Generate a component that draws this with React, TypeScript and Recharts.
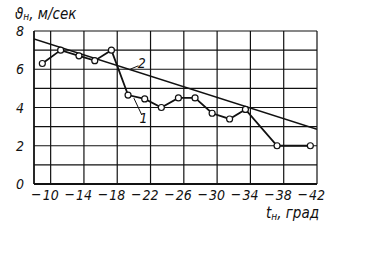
import React from 'react';
import { LineChart, Line, XAxis, YAxis, CartesianGrid, ReferenceLine, Customized } from 'recharts';

// curve 1 (measured points)
const temps1 = [-9, -11.2, -13.4, -15.3, -17.3, -19.3, -21.3, -23.3, -25.35, -27.35, -29.4, -31.5, -33.4, -37.2, -41.2];
const speeds1 = [6.3, 7.0, 6.7, 6.45, 7.0, 4.65, 4.45, 4.0, 4.5, 4.5, 3.7, 3.4, 3.9, 2.0, 2.0];

// curve 2 (straight trend line)
const temps2 = [-8, -42];
const speeds2 = [7.58, 2.86];

const xTicks = [-10, -14, -18, -22, -26, -30, -34, -38, -42];
const yTicks = [0, 1, 2, 3, 4, 5, 6, 7, 8];
const yLabelled = [0, 2, 4, 6, 8];

const FONT = '"Liberation Sans Narrow", "DejaVu Sans Condensed", sans-serif';
const INK = '#111';

const series1 = temps1.map((t, i) => ({ t, v: speeds1[i] }));
const series2 = temps2.map((t, i) => ({ t, v: speeds2[i] }));

const XTick = (props: any) => {
  const { x, y, payload } = props;
  const digits = String(Math.abs(payload.value));
  return (
    <g fontFamily={FONT} fontStyle="italic" fontSize={14} fill={INK}>
      <text x={x} y={y + 8} textAnchor="middle">{digits}</text>
      <text x={x - 9} y={y + 7} textAnchor="end">−</text>
    </g>
  );
};

const YTick = (props: any) => {
  const { x, y, payload } = props;
  if (!yLabelled.includes(payload.value)) return null;
  return (
    <text x={x - 2} y={y + 5} textAnchor="end" fontFamily={FONT} fontStyle="italic" fontSize={14} fill={INK}>
      {payload.value}
    </text>
  );
};

const Titles = () => (
  <g fontFamily={FONT} fontStyle="italic" fill={INK}>
    <text x={15} y={19} fontSize={15}>
      ϑ<tspan fontSize={10} dy={1}>н</tspan>
      <tspan dy={-1}>, м/сек</tspan>
    </text>
    <text x={266} y={218} fontSize={15}>
      t<tspan fontSize={10} dy={2}>н</tspan>
      <tspan dy={-2}>, град</tspan>
    </text>
  </g>
);

export default function App() {
  return (
    <div style={{ position: 'fixed', left: 0, top: 0, width: 383, height: 259, background: '#fff' }}>
      <LineChart width={383} height={259} margin={{ top: 31, right: 66, bottom: 45, left: 0 }}>
        <CartesianGrid stroke={INK} strokeWidth={1.2} />
        <XAxis
          type="number"
          dataKey="t"
          domain={[-42, -8]}
          reversed
          ticks={xTicks}
          interval={0}
          height={30}
          allowDataOverflow
          axisLine={{ stroke: INK, strokeWidth: 2 }}
          tickLine={false}
          tick={<XTick />}
        />
        <YAxis
          type="number"
          domain={[0, 8]}
          ticks={yTicks}
          interval={0}
          width={34}
          axisLine={{ stroke: INK, strokeWidth: 1.5 }}
          tickLine={false}
          tick={<YTick />}
        />
        <Line
          data={series2}
          dataKey="v"
          type="linear"
          stroke={INK}
          strokeWidth={1.6}
          dot={false}
          isAnimationActive={false}
        />
        <Line
          data={series1}
          dataKey="v"
          type="linear"
          stroke={INK}
          strokeWidth={1.8}
          dot={{ r: 3, fill: '#fff', stroke: INK, strokeWidth: 1.2 }}
          isAnimationActive={false}
        />
        {/* leader lines for curve numbers */}
        <ReferenceLine segment={[{ x: -19.54, y: 6.0 }, { x: -20.54, y: 6.18 }]} stroke={INK} strokeWidth={1} />
        <ReferenceLine segment={[{ x: -20.0, y: 4.49 }, { x: -20.95, y: 3.61 }]} stroke={INK} strokeWidth={1} />
        <ReferenceLine
          segment={[{ x: -20.95, y: 6.32 }, { x: -20.95, y: 6.32 }]}
          stroke="none"
          label={{ value: '2', position: 'center', fontFamily: FONT, fontStyle: 'italic', fontSize: 14, fill: INK }}
        />
        <ReferenceLine
          segment={[{ x: -21.15, y: 3.45 }, { x: -21.15, y: 3.45 }]}
          stroke="none"
          label={{ value: '1', position: 'center', fontFamily: FONT, fontStyle: 'italic', fontSize: 14, fill: INK }}
        />
        <Customized component={Titles} />
      </LineChart>
    </div>
  );
}
